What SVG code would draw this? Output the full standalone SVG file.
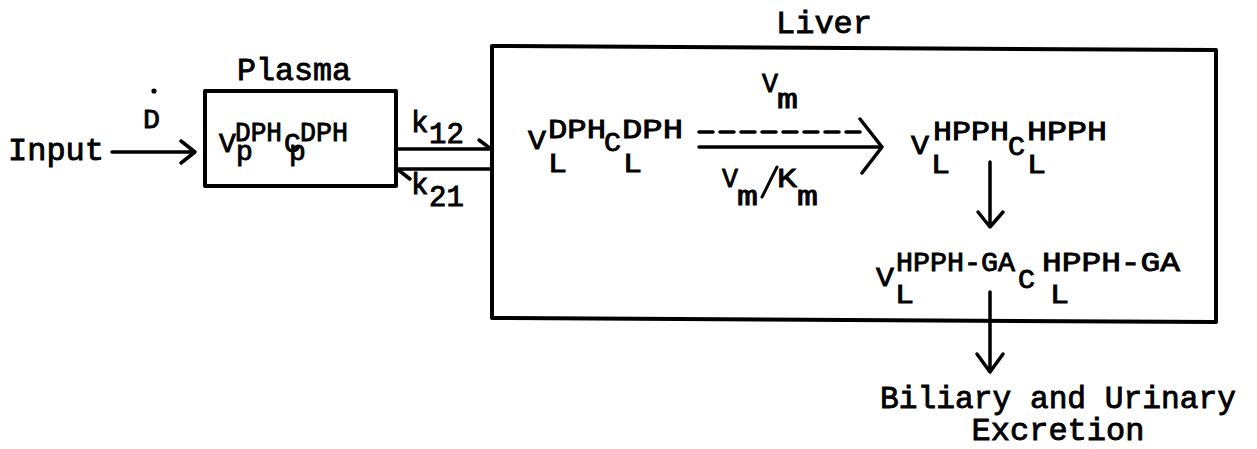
<svg xmlns="http://www.w3.org/2000/svg" width="1257" height="449" viewBox="0 0 1257 449">
<style>
text{font-family:"Liberation Mono","Courier New",monospace;fill:#000;stroke:#000;stroke-width:0.9}
.m{font-size:32px}
.f{font-size:28px}
.s{font-size:29px}
.box{fill:none;stroke:#000;stroke-width:4;stroke-linejoin:round}
.ln{fill:none;stroke:#000;stroke-width:3.5;stroke-linecap:round;stroke-linejoin:round}
</style>
<rect width="1257" height="449" fill="#fff"/>
<g id="input">
<text class="m" x="8" y="160">Input</text>
<text class="f" x="143" y="128" textLength="17" lengthAdjust="spacingAndGlyphs">D</text>
<circle cx="154" cy="91" r="2.6"/>
</g>
<g id="plasma">
<text class="m" x="237" y="80" textLength="114" lengthAdjust="spacingAndGlyphs">Plasma</text>
<rect class="box" x="205" y="91" width="191" height="95"/>
<text class="f" x="219" y="152">V</text>
<text class="f" x="235" y="141" textLength="47" lengthAdjust="spacingAndGlyphs">DPH</text>
<text class="f" x="236" y="160">p</text>
<text class="f" x="284" y="152">C</text>
<text class="f" x="300" y="141" textLength="48" lengthAdjust="spacingAndGlyphs">DPH</text>
<text class="f" x="289" y="160">p</text>
</g>
<g id="liver">
<text class="m" x="776" y="33">Liver</text>
<path class="box" d="M492,46 L1216,50 L1216,322 L492,318 Z"/>
</g>
<g id="dph">
<text class="f" x="528" y="149" textLength="18" lengthAdjust="spacingAndGlyphs">V</text>
<text class="f" x="548" y="138" textLength="58" lengthAdjust="spacingAndGlyphs">DPH</text>
<text class="f" x="548" y="172" textLength="19" lengthAdjust="spacingAndGlyphs">L</text>
<text class="f" x="604" y="151" textLength="17" lengthAdjust="spacingAndGlyphs">C</text>
<text class="f" x="622" y="138" textLength="61" lengthAdjust="spacingAndGlyphs">DPH</text>
<text class="f" x="623" y="172" textLength="19" lengthAdjust="spacingAndGlyphs">L</text>
</g>
<g id="hpph">
<text class="f" x="911" y="154" textLength="18" lengthAdjust="spacingAndGlyphs">V</text>
<text class="f" x="933" y="140" textLength="76" lengthAdjust="spacingAndGlyphs">HPPH</text>
<text class="f" x="931" y="173" textLength="19" lengthAdjust="spacingAndGlyphs">L</text>
<text class="f" x="1008" y="155" textLength="17" lengthAdjust="spacingAndGlyphs">C</text>
<text class="f" x="1027" y="140" textLength="80" lengthAdjust="spacingAndGlyphs">HPPH</text>
<text class="f" x="1027" y="173" textLength="19" lengthAdjust="spacingAndGlyphs">L</text>
</g>
<g id="hpphga">
<text class="f" x="876" y="286" textLength="18" lengthAdjust="spacingAndGlyphs">V</text>
<text class="f" x="896" y="271" textLength="119" lengthAdjust="spacingAndGlyphs">HPPH-GA</text>
<text class="f" x="895" y="303" textLength="19" lengthAdjust="spacingAndGlyphs">L</text>
<text class="f" x="1018" y="288" textLength="17" lengthAdjust="spacingAndGlyphs">C</text>
<text class="f" x="1042" y="271" textLength="138" lengthAdjust="spacingAndGlyphs">HPPH-GA</text>
<text class="f" x="1050" y="303" textLength="19" lengthAdjust="spacingAndGlyphs">L</text>
</g>
<g id="excretion">
<text class="m" x="1058" y="408" text-anchor="middle" font-size="31px" textLength="356" lengthAdjust="spacingAndGlyphs">Biliary and Urinary</text>
<text class="m" x="1058" y="440" text-anchor="middle" font-size="31px">Excretion</text>
</g>
<g id="connectors">
<path class="ln" d="M112,152 L194,152 M181,141 L195,152 L181,163"/>
<path class="ln" d="M397,149 L491,149 M479,140 L491,149"/>
<path class="ln" d="M397,169 L491,169 M397,169 L410,179"/>
<text class="s" x="411" y="132">k</text>
<text class="s" x="429" y="143">12</text>
<text class="s" x="411" y="194">k</text>
<text class="s" x="429" y="206">21</text>
<path class="ln" d="M699,132 L860,132" stroke-dasharray="14 7" stroke-linecap="butt" stroke-width="4"/>
<path class="ln" d="M699,147 L880,147 M860,119 L882,147 L862,173" stroke-width="4"/>
<text class="f" x="762" y="92" textLength="16" lengthAdjust="spacingAndGlyphs">V</text>
<text class="f" x="777" y="108" textLength="21" lengthAdjust="spacingAndGlyphs">m</text>
<text class="f" x="722" y="187" textLength="16" lengthAdjust="spacingAndGlyphs">V</text>
<text class="f" x="737" y="205" textLength="21" lengthAdjust="spacingAndGlyphs">m</text>
<path d="M762,197 L777,167" stroke="#000" stroke-width="3" stroke-linecap="round"/>
<text class="f" x="777" y="187" textLength="20" lengthAdjust="spacingAndGlyphs">K</text>
<text class="f" x="797" y="205" textLength="21" lengthAdjust="spacingAndGlyphs">m</text>
<path class="ln" d="M990,162 L990,226 M978,212 L990,227 L1003,212" stroke-width="4"/>
<path class="ln" d="M990,292 L990,371 M977,354 L990,372 L1003,354"/>
</g>
</svg>
